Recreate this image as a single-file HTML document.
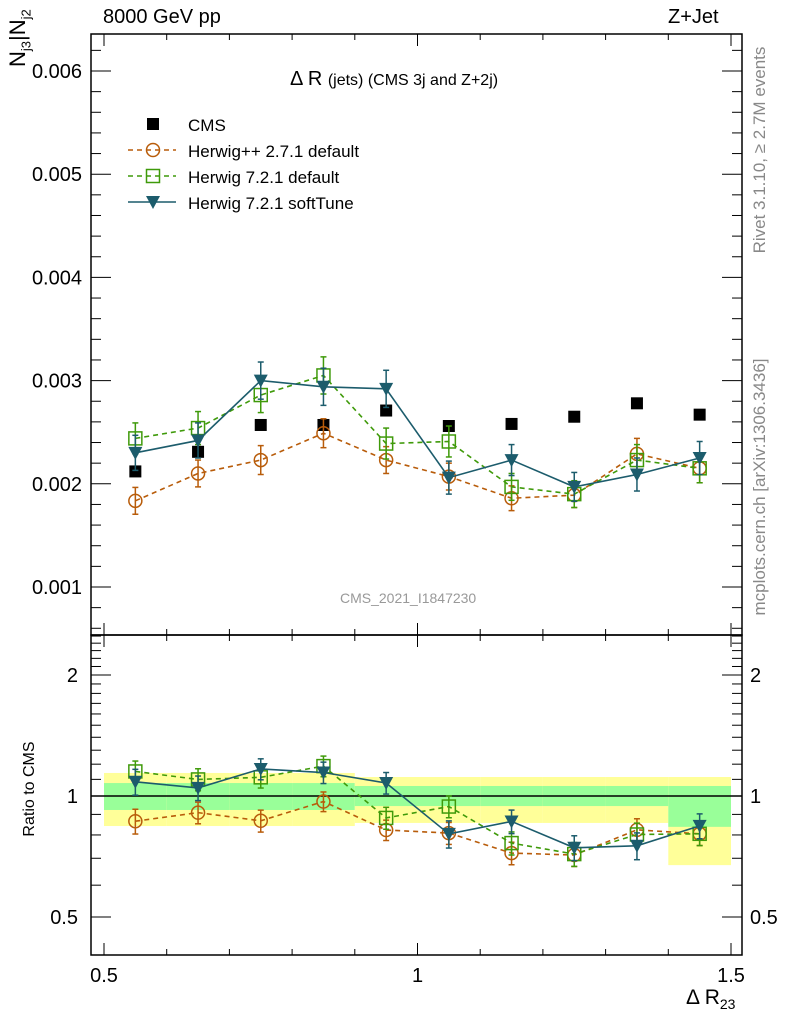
<!DOCTYPE html>
<html><head><meta charset="utf-8"><style>
body{margin:0;background:#fff;}
svg{display:block;font-family:"Liberation Sans",sans-serif;}
</style></head><body>
<svg id="c" width="786" height="1024" viewBox="0 0 786 1024" xmlns="http://www.w3.org/2000/svg"></svg>
<script>
const binCenters=[0.55,0.65,0.75,0.85,0.95,1.05,1.15,1.25,1.35,1.45];
const cms=[2.12,2.31,2.57,2.57,2.71,2.56,2.58,2.65,2.78,2.67];
const hpp=[1.835,2.10,2.23,2.49,2.23,2.07,1.86,1.89,2.29,2.15];
const hppErr=[0.13,0.13,0.14,0.14,0.13,0.13,0.12,0.12,0.15,0.14];
const h7=[2.44,2.54,2.86,3.05,2.39,2.41,1.97,1.90,2.23,2.15];
const h7Err=[0.15,0.16,0.17,0.18,0.15,0.15,0.13,0.13,0.15,0.14];
const soft=[2.30,2.42,3.00,2.94,2.92,2.06,2.23,1.97,2.09,2.25];
const softErr=[0.17,0.17,0.18,0.18,0.18,0.16,0.15,0.14,0.16,0.16];
const bandYellowHi=[1.141,1.141,1.141,1.141,1.115,1.115,1.115,1.115,1.115,1.115];
const bandYellowLo=[0.842,0.842,0.842,0.842,0.857,0.857,0.857,0.857,0.857,0.673];
const bandGreenHi=[1.077,1.077,1.077,1.077,1.059,1.059,1.059,1.059,1.059,1.059];
const bandGreenLo=[0.923,0.923,0.923,0.923,0.944,0.944,0.944,0.944,0.944,0.838];
const yTicks=[0.001,0.002,0.003,0.004,0.005,0.006];
const yTickLabels=["0.001","0.002","0.003","0.004","0.005","0.006"];
const rTicks=[0.5,1,2];
const rTickLabels=["0.5","1","2"];
const xTicks=[0.5,1,1.5];
const xTickLabels=["0.5","1","1.5"];

const L=91,R=742,T=34,M=635,B=955;
const sx=v=>104+(v-0.5)*627;
const sy=v=>587-(v-1)*103.2;
const sr=v=>796-Math.log2(v)*121;
const svg=document.getElementById('c');
const NS='http://www.w3.org/2000/svg';
function mk(t,a,p){const e=document.createElementNS(NS,t);for(const k in a)e.setAttribute(k,a[k]);(p||svg).appendChild(e);return e;}
function txt(s,a,p){const e=mk('text',a,p);e.textContent=s;return e;}

const gb=mk('g',{});


binCenters.forEach((c,i)=>{
  const x0=sx(c-0.05),x1=sx(c+0.05);
  mk('rect',{x:x0,y:sr(bandYellowHi[i]),width:x1-x0,height:sr(bandYellowLo[i])-sr(bandYellowHi[i]),fill:'#ffff99'},gb);
  mk('rect',{x:x0,y:sr(bandGreenHi[i]),width:x1-x0,height:sr(bandGreenLo[i])-sr(bandGreenHi[i]),fill:'#99ff99'},gb);
});
mk('line',{x1:L,x2:R,y1:sr(1),y2:sr(1),stroke:'#000','stroke-width':1.5});

const fr=mk('rect',{x:L,y:T,width:R-L,height:M-T,fill:'none',stroke:'#000','stroke-width':1.5});

const fr2=mk('rect',{x:L,y:M,width:R-L,height:B-M,fill:'none',stroke:'#000','stroke-width':1.5});


for(let k=5;k<=15;k++){const v=k/10;const x=sx(v);const maj=(k%5==0);const len=maj?12:6;
  [[T,1],[M,-1],[M,1],[B,-1]].forEach(([y,d])=>mk('line',{x1:x,x2:x,y1:y,y2:y+d*len,stroke:'#000','stroke-width':1}));}
xTicks.forEach((v,i)=>{const t=txt(xTickLabels[i],{x:sx(v),y:982,'font-size':20,'text-anchor':'middle'});
  });
for(let k=6;k<=63;k+=2){const v=k/10;const y=sy(v);const maj=(k%10==0);const len=maj?20:10;
  mk('line',{x1:L,x2:L+len,y1:y,y2:y,stroke:'#000'});mk('line',{x1:R,x2:R-len,y1:y,y2:y,stroke:'#000'});}
yTicks.forEach((v,i)=>{const t=txt(yTickLabels[i],{x:82,y:sy(v*1000)+7,'font-size':20,'text-anchor':'end'});
  });
const rminor=[0.5,0.6,0.7,0.8,0.9,1,1.1,1.2,1.3,1.4,1.5,1.6,1.7,1.8,1.9,2,2.1,2.2,2.3,2.4,2.5];
rminor.forEach(v=>{const y=sr(v);const maj=[0.5,1,2].includes(v);const len=maj?20:10;
  mk('line',{x1:L,x2:L+len,y1:y,y2:y,stroke:'#000'});mk('line',{x1:R,x2:R-len,y1:y,y2:y,stroke:'#000'});});
rTicks.forEach((v,i)=>{const t=txt(rTickLabels[i],{x:78,y:sr(v)+7,'font-size':20,'text-anchor':'end'});
  
  const t2=txt(rTickLabels[i],{x:750,y:sr(v)+7,'font-size':20});
  });

function marker(kind,x,y,col,p){
  if(kind==='sq')mk('rect',{x:x-6,y:y-6,width:12,height:12,fill:'#000'},p);
  if(kind==='circ')mk('circle',{cx:x,cy:y,r:6.5,fill:'none',stroke:col,'stroke-width':1.5},p);
  if(kind==='osq')mk('rect',{x:x-6.5,y:y-6.5,width:13,height:13,fill:'none',stroke:col,'stroke-width':1.5},p);
  if(kind==='tri')mk('path',{d:`M${x-7},${y-6}L${x+7},${y-6}L${x},${y+7}Z`,fill:col},p);
}
function series(name,vals,errs,col,kind,dash,ratio){
  const g=mk('g',{});
  
  
  const yf=ratio?(i,v)=>sr(v/cms[i]):(i,v)=>sy(v);
  const pts=binCenters.map((c,i)=>[sx(c),yf(i,vals[i])]);
  if(kind!=='sq')mk('polyline',{points:pts.map(p=>p.join(',')).join(' '),fill:'none',stroke:col,'stroke-width':1.6,'stroke-dasharray':dash||'none'},g);
  binCenters.forEach((c,i)=>{const x=sx(c);
    if(errs){const y1=yf(i,vals[i]+errs[i]),y2=yf(i,vals[i]-errs[i]);
      mk('line',{x1:x,x2:x,y1:y1,y2:y2,stroke:col,'stroke-width':1.5},g);
      mk('line',{x1:x-3,x2:x+3,y1:y1,y2:y1,stroke:col,'stroke-width':1.5},g);
      mk('line',{x1:x-3,x2:x+3,y1:y2,y2:y2,stroke:col,'stroke-width':1.5},g);}
    marker(kind,x,pts[i][1],col,g);});
}
const cH='#b85c0a',cG='#3f9a0a',cS='#1c5c6c';
series('cms-data',cms,null,'#000','sq');
series('herwigpp-271-series',hpp,hppErr,cH,'circ','5,4');
series('herwig-721-default-series',h7,h7Err,cG,'osq','5,4');
series('herwig-721-softtune-series',soft,softErr,cS,'tri');
series('herwigpp-271-ratio',hpp,hppErr,cH,'circ','5,4',true);
series('herwig-721-default-ratio',h7,h7Err,cG,'osq','5,4',true);
series('herwig-721-softtune-ratio',soft,softErr,cS,'tri',null,true);

const lg=mk('g',{});
const leg=[['CMS','sq','#000',null,124],['Herwig++ 2.7.1 default','circ',cH,'5,4',150],['Herwig 7.2.1 default','osq',cG,'5,4',176],['Herwig 7.2.1 softTune','tri',cS,null,202]];
leg.forEach(([n,k,c,d,y])=>{const e=mk('g',{},lg);
  if(k!=='sq')mk('line',{x1:128,x2:176,y1:y,y2:y,stroke:c,'stroke-width':1.5,'stroke-dasharray':d||'none'},e);
  marker(k,153,y,c,e);txt(n,{x:188,y:y+7,'font-size':17},e);});
</script>
<div style="position:absolute;left:0;top:0;width:786px;height:1024px;font-family:'Liberation Sans',sans-serif;pointer-events:none">
<div style="position:absolute;left:103px;top:6px;font-size:20px">8000 GeV pp</div>
<div style="position:absolute;left:668px;top:6px;font-size:20px">Z+Jet</div>
<div style="position:absolute;left:290px;top:68px;font-size:20px">Δ R <span style="font-size:16px">(jets) (CMS 3j and Z+2j)</span></div>
<div style="position:absolute;left:340px;top:590px;font-size:14px;color:#999">CMS_2021_I1847230</div>
<div style="position:absolute;left:686px;top:986px;font-size:21px">Δ R<sub style="font-size:14px">23</sub></div>
<div style="position:absolute;left:-17px;top:17px;font-size:22px;line-height:30px;transform:rotate(-90deg);transform-origin:50% 50%;width:70px;height:30px;white-space:nowrap;text-align:left">N<sub style="font-size:13px">j3</sub>|N<sub style="font-size:13px">j2</sub></div>
<div style="position:absolute;left:-30px;top:780px;width:120px;font-size:16px;transform:rotate(-90deg);text-align:center">Ratio to CMS</div>
<div style="position:absolute;left:640px;top:140px;width:240px;font-size:17px;color:#888;transform:rotate(-90deg);text-align:center">Rivet 3.1.10, ≥ 2.7M events</div>
<div style="position:absolute;left:600px;top:477px;width:320px;font-size:17px;color:#888;transform:rotate(-90deg);text-align:center">mcplots.cern.ch [arXiv:1306.3436]</div>
</div>
</body></html>
